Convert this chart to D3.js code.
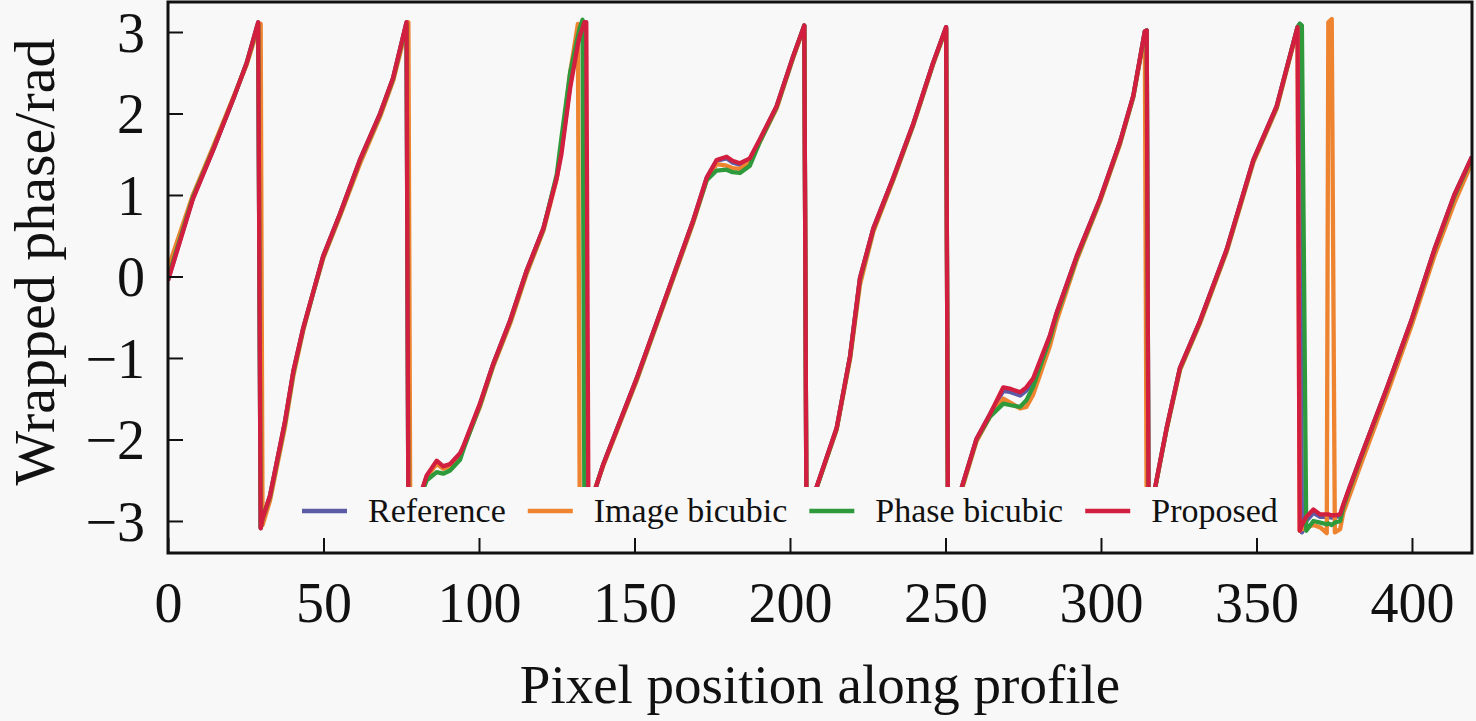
<!DOCTYPE html>
<html lang="en">
<head>
    <meta charset="UTF-8">
    <title>Wrapped phase profile</title>
    <script src="https://cdnjs.cloudflare.com/ajax/libs/d3/7.8.5/d3.min.js"></script>
    <style>
        body {
            margin: 0;
            padding: 0;
            background-color: #f8f8f8;
        }
        svg text {
            font-family: "Liberation Serif", "Times New Roman", serif;
            fill: #111;
        }
    </style>
</head>
<body>
    <div id="chart"></div>
    <script>
        // pixel positions along the profile (shared by all series)
        const pixelPos = [
            0, 8, 14.6, 21, 25.3, 29, 29.8, 30.4, 32.8, 37.6,
            40.3, 43.5, 46.7, 49.9, 55.3, 61.7, 68.2, 72.4, 76.7, 77.3,
            77.9, 80, 82, 83.2, 86.4, 88.5, 90.7, 93.9, 95, 100.3,
            104.6, 110, 115.3, 120.7, 125, 126.5, 129.3, 131.8, 132.4, 133.3,
            133.9, 134.5, 135.2, 136.2, 140, 150.7, 161.4, 168.9, 173.2, 176.4,
            179.6, 181.5, 183.9, 187.1, 190.4, 195.7, 201, 204.6, 205.3, 207,
            208.5, 215, 219.3, 222.5, 226.8, 233.2, 239.6, 246, 250.2, 250.8,
            253.5, 255.2, 260, 264.3, 268.6, 271, 274, 276, 278.2, 283.6,
            285.7, 292.2, 299.7, 306.1, 310.4, 314.1, 314.7, 315.3, 316.5, 317.4,
            321.1, 325.4, 331.8, 340.4, 349, 356.5, 363.2, 363.9, 364.6, 366,
            368.3, 370.5, 372.6, 373.1, 374.2, 375.2, 376.9, 377.9, 380, 383.6,
            392.2, 399.7, 407.2, 413.6, 419.3
        ];

        const referencePhase = [
            -0.04, 0.96, 1.56, 2.18, 2.62, 3.12, -3.09, -2.97, -2.69, -1.79,
            -1.17, -0.63, -0.19, 0.25, 0.77, 1.43, 2.0, 2.44, 3.12, -3.0,
            -2.98, -2.8, -2.59, -2.45, -2.28, -2.33, -2.31, -2.18, -2.09, -1.57,
            -1.07, -0.54, 0.07, 0.59, 1.22, 1.55, 2.35, 2.9, 3.0, 3.1,
            3.12, -3.05, -3.0, -2.75, -2.3, -1.25, -0.11, 0.69, 1.21, 1.42,
            1.45, 1.4, 1.37, 1.44, 1.68, 2.09, 2.7, 3.08, -3.05, -2.85,
            -2.59, -1.86, -0.98, -0.02, 0.59, 1.21, 1.87, 2.62, 3.06, -3.05,
            -2.8, -2.59, -1.99, -1.69, -1.4, -1.42, -1.46, -1.4, -1.28, -0.73,
            -0.45, 0.25, 0.95, 1.65, 2.22, 3.01, 3.02, -3.0, -2.85, -2.59,
            -1.86, -1.12, -0.55, 0.33, 1.43, 2.09, 3.06, 3.1, -3.14, -3.0,
            -2.9, -2.95, -2.95, -2.95, -2.96, -2.95, -2.94, -2.81, -2.58, -2.21,
            -1.34, -0.55, 0.33, 1.0, 1.47
        ];

        const imageBicubic = [
            0.1, 1.0, 1.6, 2.2, 2.6, 3.05, 3.1, -3.05, -2.75, -1.85,
            -1.22, -0.66, -0.2, 0.22, 0.74, 1.38, 1.96, 2.4, 3.05, 3.12,
            -3.0, -2.8, -2.6, -2.46, -2.3, -2.36, -2.33, -2.2, -2.1, -1.6,
            -1.1, -0.58, 0.03, 0.56, 1.2, 1.6, 2.5, 3.1, -3.0, -2.98,
            -2.95, -2.92, -2.88, -2.72, -2.32, -1.28, -0.14, 0.66, 1.18, 1.38,
            1.36, 1.33, 1.32, 1.4, 1.66, 2.06, 2.68, 3.06, -3.05, -2.85,
            -2.6, -1.88, -1.02, -0.1, 0.55, 1.18, 1.85, 2.6, 3.04, -3.05,
            -2.82, -2.62, -2.02, -1.72, -1.5, -1.55, -1.62, -1.6, -1.45, -0.85,
            -0.55, 0.2, 0.92, 1.62, 2.2, 2.98, -3.0, -2.95, -2.82, -2.6,
            -1.88, -1.15, -0.58, 0.3, 1.4, 2.06, 3.04, -3.12, -3.1, -3.08,
            -3.05, -3.08, -3.15, 3.12, 3.16, -3.14, -3.1, -2.9, -2.68, -2.3,
            -1.42, -0.62, 0.25, 0.9, 1.4
        ];

        const phaseBicubic = [
            -0.02, 0.97, 1.57, 2.18, 2.62, 3.1, -3.08, -2.97, -2.7, -1.8,
            -1.18, -0.64, -0.2, 0.24, 0.76, 1.42, 1.99, 2.43, 3.1, -3.0,
            -2.98, -2.82, -2.62, -2.5, -2.4, -2.42, -2.38, -2.25, -2.12, -1.58,
            -1.08, -0.55, 0.06, 0.58, 1.25, 1.7, 2.5, 2.95, 3.05, 3.15,
            -3.0, -2.98, -2.96, -2.75, -2.3, -1.26, -0.12, 0.68, 1.18, 1.3,
            1.31, 1.28, 1.27, 1.36, 1.66, 2.08, 2.69, 3.08, -3.05, -2.85,
            -2.6, -1.87, -0.99, -0.04, 0.58, 1.2, 1.86, 2.61, 3.05, -3.05,
            -2.8, -2.6, -2.0, -1.72, -1.56, -1.58, -1.6, -1.52, -1.35, -0.76,
            -0.48, 0.23, 0.94, 1.64, 2.21, 3.0, 3.02, -3.0, -2.85, -2.6,
            -1.87, -1.13, -0.56, 0.32, 1.42, 2.08, 3.06, 3.1, 3.08, -3.12,
            -3.0, -3.02, -3.04, -3.03, -3.05, -3.02, -3.0, -2.83, -2.6, -2.22,
            -1.35, -0.56, 0.32, 0.98, 1.46
        ];

        const proposed = [
            -0.05, 0.95, 1.56, 2.18, 2.62, 3.12, -3.09, -2.97, -2.69, -1.78,
            -1.16, -0.63, -0.19, 0.25, 0.77, 1.43, 2.0, 2.44, 3.12, -3.0,
            -2.98, -2.8, -2.58, -2.44, -2.26, -2.33, -2.30, -2.17, -2.08, -1.56,
            -1.07, -0.54, 0.07, 0.59, 1.21, 1.5, 2.31, 2.85, 2.95, 3.05,
            3.12, 3.12, -3.0, -2.75, -2.3, -1.25, -0.11, 0.69, 1.21, 1.43,
            1.47, 1.42, 1.39, 1.45, 1.69, 2.09, 2.7, 3.08, -3.05, -2.85,
            -2.59, -1.86, -0.98, -0.02, 0.59, 1.21, 1.87, 2.62, 3.06, -3.05,
            -2.8, -2.59, -1.99, -1.69, -1.36, -1.38, -1.42, -1.36, -1.25, -0.72,
            -0.45, 0.25, 0.95, 1.65, 2.22, 3.01, 3.02, -3.0, -2.85, -2.59,
            -1.86, -1.12, -0.55, 0.33, 1.43, 2.09, 3.06, -3.12, -3.05, -2.95,
            -2.86, -2.92, -2.92, -2.92, -2.93, -2.93, -2.92, -2.8, -2.58, -2.21,
            -1.34, -0.55, 0.33, 1.0, 1.47
        ];

        const seriesNames = ["Reference", "Image bicubic", "Phase bicubic", "Proposed"];
        const seriesColors = ["#5b5ba6", "#ee8330", "#2f9a3c", "#d21f3f"];
        const xTicks = [0, 50, 100, 150, 200, 250, 300, 350, 400];
        const yTicks = [-3, -2, -1, 0, 1, 2, 3];
        const yTickLabels = ["\u22123", "\u22122", "\u22121", "0", "1", "2", "3"];

        const seriesValues = [referencePhase, imageBicubic, phaseBicubic, proposed];

        const width = 1476;
        const height = 721;
        const plot = {left: 168, right: 1472, top: 2, bottom: 553};

        const svg = d3.select("#chart")
            .append("svg")
            .attr("width", width)
            .attr("height", height)
            .style("display", "block")
            .style("background", "#f8f8f8");

        const x = d3.scaleLinear()
            .domain([0, 419.3])
            .range([plot.left, plot.right]);

        const y = d3.scaleLinear()
            .domain([-3.393, 3.368])
            .range([plot.bottom, plot.top]);

        svg.append("clipPath")
            .attr("id", "plot-clip")
            .append("rect")
            .attr("x", plot.left)
            .attr("y", plot.top)
            .attr("width", plot.right - plot.left)
            .attr("height", plot.bottom - plot.top);

        const line = d3.line()
            .x((d, i) => x(pixelPos[i]))
            .y(d => y(d));

        const lines = svg.append("g").attr("clip-path", "url(#plot-clip)");
        seriesValues.forEach((vals, k) => {
            lines.append("path")
                .datum(vals)
                .attr("fill", "none")
                .attr("stroke", seriesColors[k])
                .attr("stroke-width", 4.3)
                .attr("stroke-linejoin", "round")
                .attr("d", line);
        });

        // legend (opaque box hides the lines behind it)
        const legend = svg.append("g");
        legend.append("rect")
            .attr("x", 290)
            .attr("y", 487)
            .attr("width", 1002)
            .attr("height", 48)
            .attr("fill", "#f8f8f8");

        let lx = 302;
        seriesNames.forEach((name, k) => {
            legend.append("line")
                .attr("x1", lx).attr("x2", lx + 45)
                .attr("y1", 511).attr("y2", 511)
                .attr("stroke", seriesColors[k])
                .attr("stroke-width", 4.5);
            const t = legend.append("text")
                .attr("x", lx + 66)
                .attr("y", 522)
                .style("font-size", "34px")
                .text(name);
            lx = lx + 66 + t.node().getComputedTextLength() + 22;
        });

        // axes with inward ticks
        const xAxis = svg.append("g")
            .attr("transform", `translate(0,${plot.bottom})`)
            .call(d3.axisBottom(x).tickValues(xTicks).tickSize(-15).tickPadding(29));
        xAxis.select(".domain").remove();
        xAxis.selectAll(".tick line").attr("stroke", "#111").attr("stroke-width", 2);
        xAxis.selectAll(".tick text").style("font-size", "56px").attr("fill", "#111");

        const yAxis = svg.append("g")
            .attr("transform", `translate(${plot.left},0)`)
            .call(d3.axisLeft(y).tickValues(yTicks).tickSize(-15).tickPadding(23)
                .tickFormat((d, i) => yTickLabels[i]));
        yAxis.select(".domain").remove();
        yAxis.selectAll(".tick line").attr("stroke", "#111").attr("stroke-width", 2);
        yAxis.selectAll(".tick text").style("font-size", "56px").attr("fill", "#111")
            .attr("dy", "0.34em");

        svg.append("rect")
            .attr("x", plot.left)
            .attr("y", plot.top)
            .attr("width", plot.right - plot.left)
            .attr("height", plot.bottom - plot.top)
            .attr("fill", "none")
            .attr("stroke", "#111")
            .attr("stroke-width", 3);

        svg.append("text")
            .attr("x", (plot.left + plot.right) / 2)
            .attr("y", 703)
            .attr("text-anchor", "middle")
            .style("font-size", "55px")
            .text("Pixel position along profile");

        svg.append("text")
            .attr("transform", "translate(54,262) rotate(-90)")
            .attr("text-anchor", "middle")
            .style("font-size", "58px")
            .text("Wrapped phase/rad");
    </script>
</body>
</html>
